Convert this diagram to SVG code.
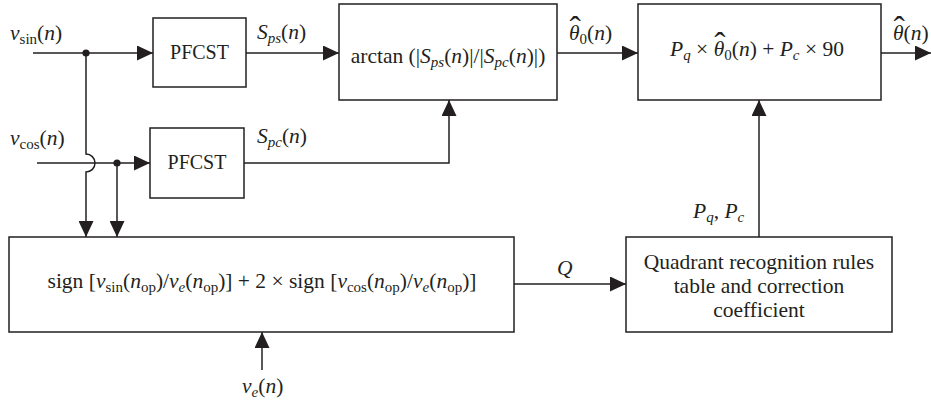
<svg xmlns="http://www.w3.org/2000/svg" width="931" height="404" viewBox="0 0 931 404">
<defs>
<style>
.box{fill:#fff;stroke:#231f20;stroke-width:1.5}
.ar{fill:none;stroke:#231f20;stroke-width:1.5;marker-end:url(#ah)}
text{font-family:"Liberation Serif","Times New Roman",serif;font-size:21.5px;fill:#231f20}
.c{text-anchor:middle}
.i{font-style:italic}
.s{font-size:15px}
.pf{font-size:20px}
.hat{font-size:34px;font-style:normal}
</style>
<marker id="ah" markerUnits="userSpaceOnUse" markerWidth="16" markerHeight="15" refX="16" refY="7.5" orient="auto">
<path d="M0,0 L16,7.5 L0,15 z" fill="#231f20"/>
</marker>
</defs>
<rect width="931" height="404" fill="#fff"/>

<g id="connectors">
<line class="ar" x1="33" y1="53" x2="153" y2="53"/>
<circle cx="86" cy="53" r="3.6" fill="#231f20"/>
<line class="ar" x1="246" y1="53" x2="339" y2="53"/>
<path class="ar" d="M86,53 V154 A9,9 0 0 1 86,172 V237"/>
<line class="ar" x1="37" y1="163" x2="150" y2="163"/>
<circle cx="117" cy="163" r="3.6" fill="#231f20"/>
<line class="ar" x1="117" y1="163" x2="117" y2="237"/>
<path class="ar" d="M244,163 H449 V100"/>
<line class="ar" x1="557" y1="53" x2="638" y2="53"/>
<line class="ar" x1="881" y1="53" x2="931" y2="53"/>
<line class="ar" x1="759" y1="237" x2="759" y2="100"/>
<line class="ar" x1="514" y1="284" x2="626" y2="284"/>
<line class="ar" x1="262" y1="370" x2="262" y2="332"/>
</g>

<g id="labels">
<text x="10" y="40"><tspan class="i">v</tspan><tspan class="s" dy="4">sin</tspan><tspan dy="-4">(</tspan><tspan class="i">n</tspan>)</text>
<text x="257" y="39"><tspan class="i">S</tspan><tspan class="s i" dy="4">ps</tspan><tspan dy="-4">(</tspan><tspan class="i">n</tspan>)</text>
<text x="10" y="145"><tspan class="i">v</tspan><tspan class="s" dy="4">cos</tspan><tspan dy="-4">(</tspan><tspan class="i">n</tspan>)</text>
<text x="257" y="143"><tspan class="i">S</tspan><tspan class="s i" dy="4">pc</tspan><tspan dy="-4">(</tspan><tspan class="i">n</tspan>)</text>
<text x="569" y="40"><tspan class="i">θ</tspan><tspan class="hat" dx="-10">ˆ</tspan><tspan class="s" dx="-1.3" dy="4">0</tspan><tspan dy="-4">(</tspan><tspan class="i">n</tspan>)</text>
<text x="893" y="40"><tspan class="i">θ</tspan><tspan class="hat" dx="-10">ˆ</tspan><tspan dx="-1.3">(</tspan><tspan class="i">n</tspan>)</text>
<text x="693" y="218"><tspan class="i">P</tspan><tspan class="s i" dy="4">q</tspan><tspan dy="-4">, </tspan><tspan class="i">P</tspan><tspan class="s i" dy="4">c</tspan></text>
<text x="557" y="275" class="i">Q</text>
<text x="242" y="393"><tspan class="i">v</tspan><tspan class="s i" dy="4">e</tspan><tspan dy="-4">(</tspan><tspan class="i">n</tspan>)</text>
</g>

<g id="pfcst1">
<rect class="box" x="153" y="18" width="93" height="69"/>
<text class="c pf" x="199.5" y="59">PFCST</text>
</g>

<g id="pfcst2">
<rect class="box" x="150" y="128" width="94" height="70"/>
<text class="c pf" x="197" y="169">PFCST</text>
</g>

<g id="arctan">
<rect class="box" x="339" y="4" width="218" height="96"/>
<text class="c" x="448" y="63">arctan (|<tspan class="i">S</tspan><tspan class="s i" dy="4">ps</tspan><tspan dy="-4">(</tspan><tspan class="i">n</tspan>)|/|<tspan class="i">S</tspan><tspan class="s i" dy="4">pc</tspan><tspan dy="-4">(</tspan><tspan class="i">n</tspan>)|)</text>
</g>

<g id="correction">
<rect class="box" x="638" y="4" width="243" height="96"/>
<text class="c" x="757" y="56"><tspan class="i">P</tspan><tspan class="s i" dy="4">q</tspan><tspan dy="-4"> × </tspan><tspan class="i">θ</tspan><tspan class="hat" dx="-10">ˆ</tspan><tspan class="s" dx="-1.3" dy="4">0</tspan><tspan dy="-4">(</tspan><tspan class="i">n</tspan>) + <tspan class="i">P</tspan><tspan class="s i" dy="4">c</tspan><tspan dy="-4"> × 90</tspan></text>
</g>

<g id="sign">
<rect class="box" x="9" y="237" width="505" height="95"/>
<text class="c" x="262" y="288">sign [<tspan class="i">v</tspan><tspan class="s" dy="4">sin</tspan><tspan dy="-4">(</tspan><tspan class="i">n</tspan><tspan class="s" dy="4">op</tspan><tspan dy="-4">)/</tspan><tspan class="i">v</tspan><tspan class="s i" dy="4">e</tspan><tspan dy="-4">(</tspan><tspan class="i">n</tspan><tspan class="s" dy="4">op</tspan><tspan dy="-4">)] + 2 × sign [</tspan><tspan class="i">v</tspan><tspan class="s" dy="4">cos</tspan><tspan dy="-4">(</tspan><tspan class="i">n</tspan><tspan class="s" dy="4">op</tspan><tspan dy="-4">)/</tspan><tspan class="i">v</tspan><tspan class="s i" dy="4">e</tspan><tspan dy="-4">(</tspan><tspan class="i">n</tspan><tspan class="s" dy="4">op</tspan><tspan dy="-4">)]</tspan></text>
</g>

<g id="quadrant">
<rect class="box" x="626" y="237" width="266" height="95"/>
<text class="c" x="759" y="269">Quadrant recognition rules</text>
<text class="c" x="759" y="293">table and correction</text>
<text class="c" x="759" y="317">coefficient</text>
</g>
</svg>
